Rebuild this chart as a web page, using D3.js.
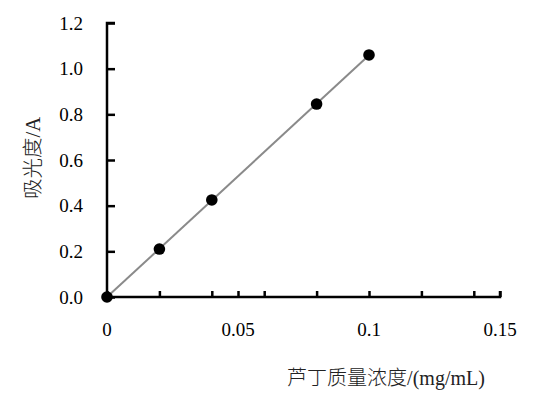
<!DOCTYPE html>
<html>
<head>
<meta charset="utf-8">
<script src="https://cdn.jsdelivr.net/npm/d3@7"></script>
<style>
  body { margin: 0; background: #fff; }
</style>
</head>
<body>
<div id="chart"></div>
<script>
// concentration (mg/mL) and absorbance
const concentration = [0, 0.02, 0.04, 0.08, 0.1];
const absorbance = [0, 0.21, 0.425, 0.845, 1.06];
const xMajorTicks = [0, 0.05, 0.1, 0.15];
const xMinorTicks = [0.02, 0.04, 0.06, 0.08, 0.12, 0.14];
const yTicks = [0, 0.2, 0.4, 0.6, 0.8, 1.0, 1.2];
const xTitle = '芦丁质量浓度/(mg/mL)';
const yTitle = '吸光度/A';

const serif = '"Liberation Serif", "Times New Roman", serif';
const titleFont = '"Liberation Serif", "Noto Sans CJK SC", serif';

const width = 548, height = 398;
const margin = { top: 23, right: 48, bottom: 101, left: 107 };
const innerW = width - margin.left - margin.right;
const innerH = height - margin.top - margin.bottom;

const x = d3.scaleLinear().domain([0, 0.15]).range([0, innerW]);
const y = d3.scaleLinear().domain([0, 1.2]).range([innerH, 0]);

const svg = d3.select('#chart').append('svg')
  .attr('width', width)
  .attr('height', height);

const g = svg.append('g')
  .attr('transform', 'translate(' + margin.left + ',' + margin.top + ')');

// least-squares fit through the points
const mx = d3.mean(concentration), my = d3.mean(absorbance);
let sxy = 0, sxx = 0;
concentration.forEach((c, i) => { sxy += (c - mx) * (absorbance[i] - my); sxx += (c - mx) * (c - mx); });
const slope = sxy / sxx;
const intercept = my - slope * mx;
const fitX = d3.extent(concentration);

// Y axis
const yAxis = g.append('g')
  .call(d3.axisRight(y).tickValues(yTicks).tickSize(8).tickFormat(''));
yAxis.select('.domain').attr('stroke', '#000').attr('stroke-width', 2.5)
  .attr('d', 'M0,' + innerH + 'V0H8');
yAxis.selectAll('.tick line').attr('stroke', '#000').attr('stroke-width', 2.5);

g.selectAll('.ylab').data(yTicks).enter().append('text')
  .attr('font-family', serif)
  .attr('font-size', 19)
  .attr('x', -24)
  .attr('y', d => y(d))
  .attr('dy', '0.35em')
  .attr('text-anchor', 'end')
  .text(d => d.toFixed(1));

// X axis
const xAxis = g.append('g')
  .attr('transform', 'translate(0,' + innerH + ')')
  .call(d3.axisTop(x).tickValues(xMajorTicks.concat(xMinorTicks)).tickSize(6).tickFormat(''));
xAxis.select('.domain').attr('stroke', '#000').attr('stroke-width', 2.5)
  .attr('d', 'M0,0H' + innerW + 'V-6');
xAxis.selectAll('.tick line').attr('stroke', '#000').attr('stroke-width', 2.5);

g.selectAll('.xlab').data(xMajorTicks).enter().append('text')
  .attr('font-family', serif)
  .attr('font-size', 19)
  .attr('x', d => x(d))
  .attr('y', innerH + 39)
  .attr('text-anchor', 'middle')
  .text(d => d === 0 ? '0' : String(d));

// trend line
g.append('line')
  .attr('x1', x(fitX[0])).attr('y1', y(slope * fitX[0] + intercept))
  .attr('x2', x(fitX[1])).attr('y2', y(slope * fitX[1] + intercept))
  .attr('stroke', '#8a8a8a').attr('stroke-width', 2);

// points
g.selectAll('circle').data(concentration).enter().append('circle')
  .attr('cx', d => x(d))
  .attr('cy', (d, i) => y(absorbance[i]))
  .attr('r', 5.8)
  .attr('fill', '#000');

// titles
svg.append('text')
  .attr('font-family', titleFont)
  .attr('font-size', 20)
  .attr('font-weight', 300)
  .attr('fill', '#222')
  .attr('x', 386).attr('y', 385)
  .attr('text-anchor', 'middle')
  .text(xTitle);

svg.append('text')
  .attr('font-family', titleFont)
  .attr('font-size', 20.5)
  .attr('font-weight', 300)
  .attr('fill', '#222')
  .attr('transform', 'translate(40,158) rotate(-90)')
  .attr('text-anchor', 'middle')
  .text(yTitle);
</script>
</body>
</html>
